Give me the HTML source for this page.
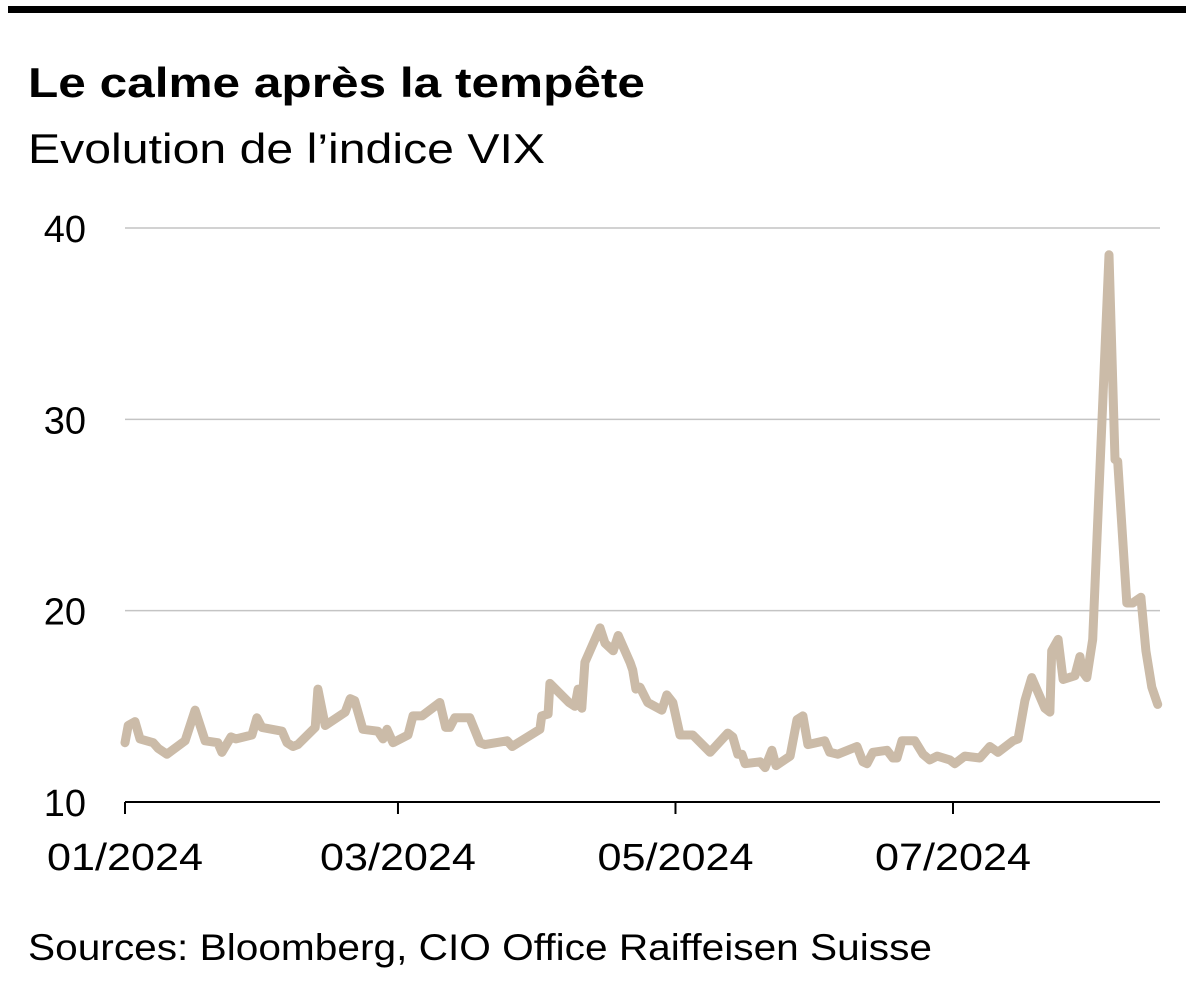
<!DOCTYPE html>
<html><head><meta charset="utf-8"><style>
html,body{margin:0;padding:0;background:#fff;}
svg{display:block;font-family:"Liberation Sans",sans-serif;}
</style></head><body>
<svg id="chart" width="1194" height="981" viewBox="0 0 1194 981">
<rect x="8" y="6" width="1178" height="7" fill="#000"/>
<text x="28" y="97" font-size="42" font-weight="bold" textLength="617" lengthAdjust="spacingAndGlyphs">Le calme après la tempête</text>
<text x="28" y="163" font-size="42" textLength="517" lengthAdjust="spacingAndGlyphs">Evolution de l’indice VIX</text>
<g id="grid"></g>
<g id="yticks"></g>
<g id="xaxis"></g>
<path id="line" fill="none" stroke="#cbbba8" stroke-width="9" stroke-linejoin="round" stroke-linecap="round"/>
<text x="28" y="960" font-size="37" textLength="904" lengthAdjust="spacingAndGlyphs">Sources: Bloomberg, CIO Office Raiffeisen Suisse</text>
</svg>
<script>
const days=[0,0.7,2.2,3.3,6.2,7.3,9.2,13.2,15.4,17.6,20.4,21.3,23.3,24.4,27.9,29,30.1,34.5,35.6,36.9,38,41.8,42.4,44,48.4,49.5,50.5,52.3,55.6,56.7,57.6,58.9,62.2,63.3,65.3,69.2,70.5,71.4,72.5,75.8,78,79.1,84,85.1,91.2,91.6,93,93.4,97.6,98.9,99.6,100.4,101.1,104.4,105.5,107.3,108.4,111,111.6,112.3,113.2,114.9,118,119.1,120.4,122,124.8,128.6,132.5,133.6,134.7,135.6,136.3,139.6,140.7,142.2,143.1,146.2,147.7,149,150.1,153.8,154.9,156.7,160.9,162.2,163.1,164.4,167.5,168.8,169.7,170.8,172.1,173.6,175.4,176.9,178.5,181.3,182.4,184.6,187.9,190.1,191.9,195.2,196.3,197.8,199.3,202.2,203.3,203.7,205.1,206.2,208.8,209.9,210.5,211.4,212.7,216.3,217.6,218.2,220.2,221.5,223.3,224.4,225.7,227];
const vix=[13.1,14.0,14.2,13.3,13.1,12.8,12.5,13.2,14.8,13.2,13.1,12.6,13.4,13.3,13.5,14.4,13.9,13.7,13.1,12.9,13.0,13.9,15.9,14.0,14.7,15.4,15.3,13.8,13.7,13.3,13.8,13.1,13.5,14.5,14.5,15.2,13.9,13.9,14.4,14.4,13.1,13.0,13.2,12.9,13.8,14.5,14.6,16.2,15.2,15.0,15.9,14.9,17.3,19.1,18.3,17.9,18.7,17.3,16.9,15.9,16.0,15.2,14.8,15.6,15.2,13.5,13.5,12.6,13.6,13.4,12.5,12.5,12.0,12.1,11.8,12.7,11.9,12.4,14.3,14.5,13.0,13.2,12.6,12.5,12.9,12.1,12.0,12.6,12.7,12.3,12.3,13.2,13.2,13.2,12.5,12.2,12.4,12.2,12.0,12.4,12.3,12.9,12.6,13.2,13.3,15.3,16.5,14.9,14.7,17.9,18.5,16.4,16.6,17.6,16.8,16.5,18.5,38.6,27.9,27.8,20.4,20.4,20.7,17.9,16.0,15.1];
const yTicks=[10,20,30,40];
const xTickDays=[0,60,121,182];
const xTickLabels=["01/2024","03/2024","05/2024","07/2024"];
const X0=125,X1=1160,DAYSPAN=227.5;
const x=d=>X0+d*(X1-X0)/DAYSPAN;
const y=v=>802-(v-10)*(802-228)/30;
const NS="http://www.w3.org/2000/svg";
const grid=document.getElementById('grid'),yt=document.getElementById('yticks'),xa=document.getElementById('xaxis');
yTicks.forEach(t=>{
  if(t>10){const l=document.createElementNS(NS,'line');
  l.setAttribute('x1',X0);l.setAttribute('x2',X1);l.setAttribute('y1',y(t));l.setAttribute('y2',y(t));
  l.setAttribute('stroke','#c4c4c4');l.setAttribute('stroke-width','1.5');
  
  
  grid.appendChild(l);}
  const tx=document.createElementNS(NS,'text');
  tx.setAttribute('x',86);tx.setAttribute('y',y(t)+14);tx.setAttribute('text-anchor','end');tx.setAttribute('font-size','38');
  tx.textContent=t;
  
  
  yt.appendChild(tx);
});
const ax=document.createElementNS(NS,'line');
ax.setAttribute('x1',X0);ax.setAttribute('x2',X1);ax.setAttribute('y1',802);ax.setAttribute('y2',802);ax.setAttribute('stroke','#000');ax.setAttribute('stroke-width','2');


xa.appendChild(ax);
xTickDays.forEach((d,i)=>{
  const tk=document.createElementNS(NS,'line');
  tk.setAttribute('x1',x(d));tk.setAttribute('x2',x(d));tk.setAttribute('y1',802);tk.setAttribute('y2',814);tk.setAttribute('stroke','#000');tk.setAttribute('stroke-width','2');
  
  
  xa.appendChild(tk);
  const tx=document.createElementNS(NS,'text');
  tx.setAttribute('x',x(d));tx.setAttribute('y',870);tx.setAttribute('text-anchor','middle');tx.setAttribute('font-size','38');
  tx.setAttribute('textLength','156');tx.setAttribute('lengthAdjust','spacingAndGlyphs');
  tx.textContent=xTickLabels[i];
  
  
  xa.appendChild(tx);
});
document.getElementById('line').setAttribute('d',days.map((d,i)=>(i?'L':'M')+x(d).toFixed(1)+','+y(vix[i]).toFixed(1)).join(''));
</script>
</body></html>
